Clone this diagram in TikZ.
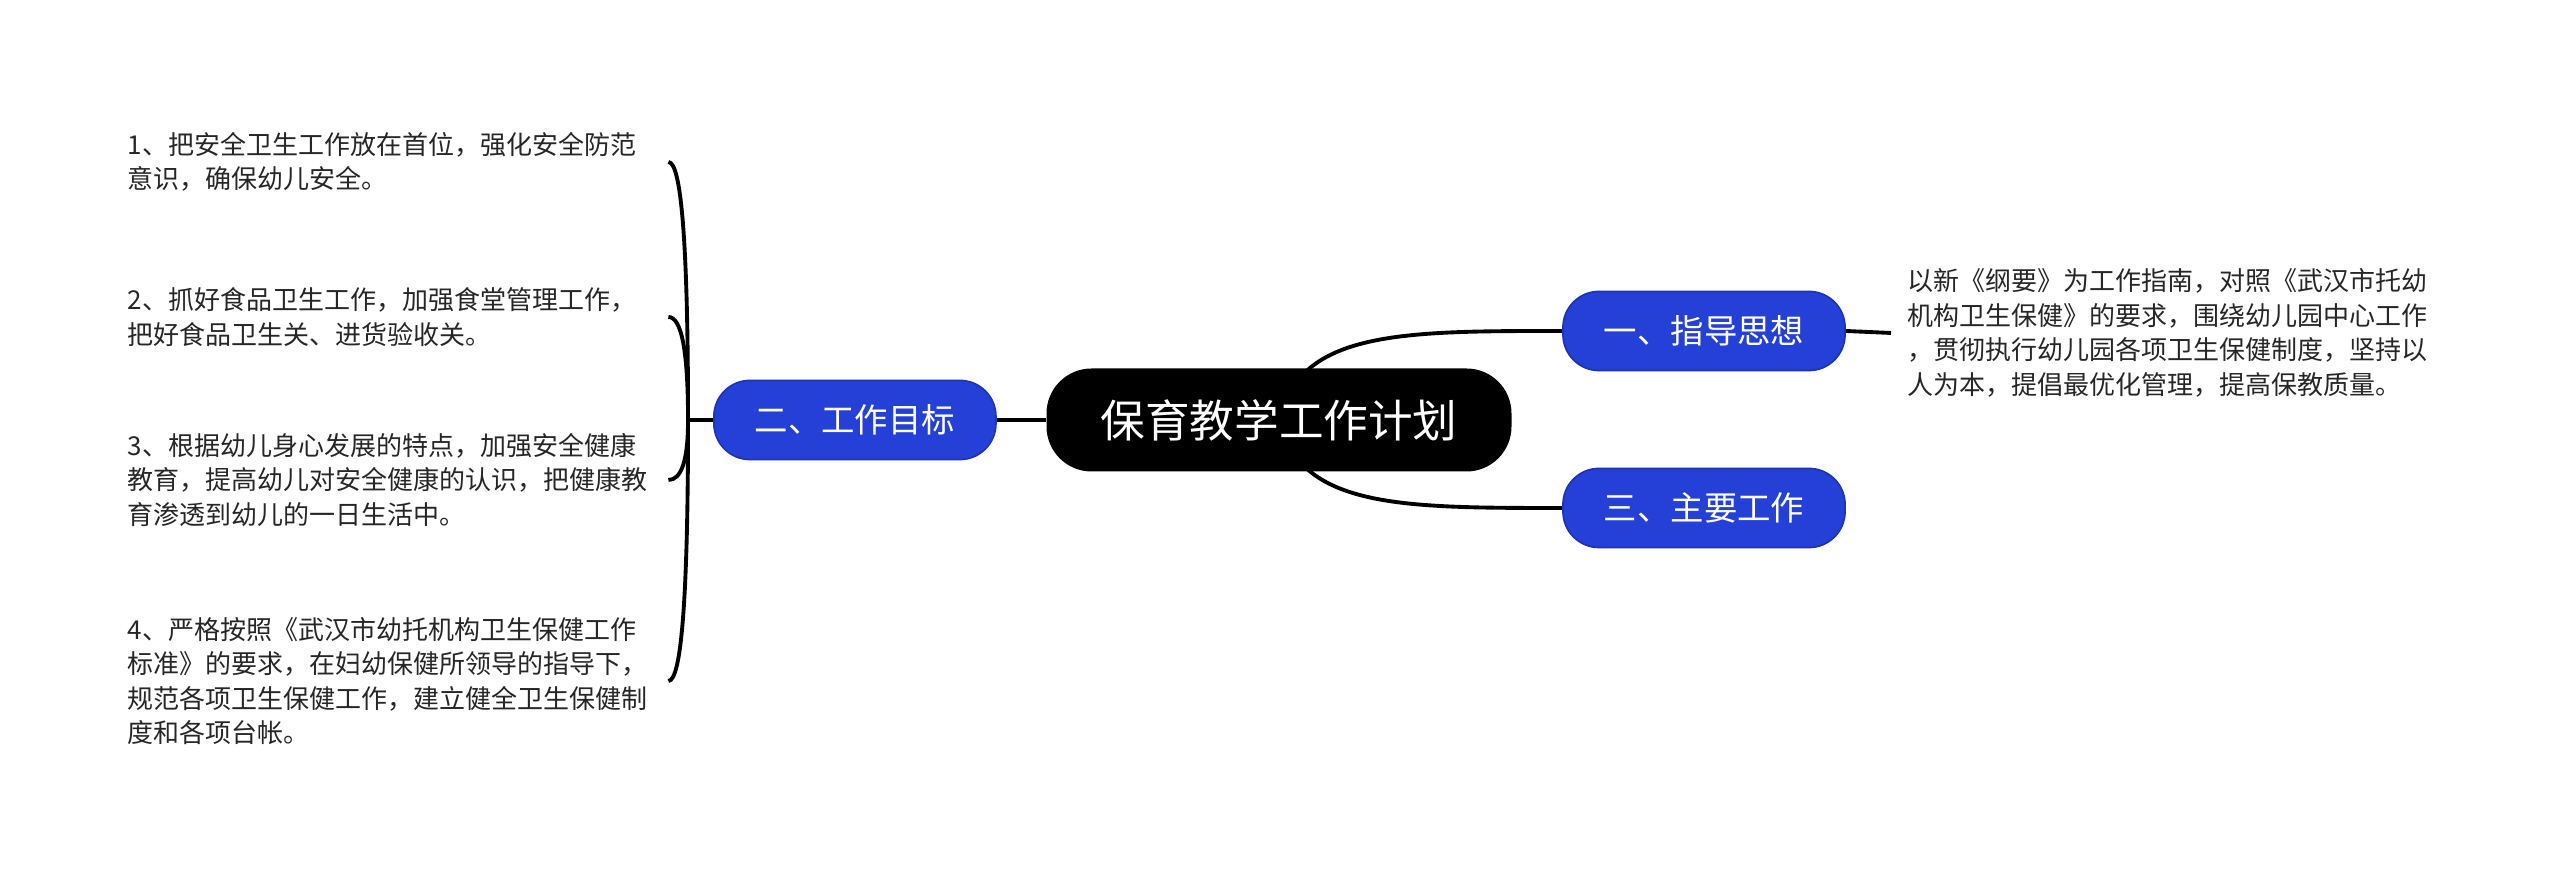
\documentclass[tikz,border=0pt]{standalone}
\usepackage{fontspec}
\setmainfont{Noto Sans CJK SC}
\usetikzlibrary{positioning,backgrounds,calc}
\definecolor{mapblue}{RGB}{37,64,214}
\definecolor{mapblueline}{RGB}{30,52,182}

\tikzset{
  link/.style={line width=1.1pt, black},
  rootbox/.style={fill=black, text=white, rounded corners=0.45cm,
    minimum width=4.65cm, minimum height=1.03cm,
    font=\fontsize{12.7pt}{15pt}\selectfont},
  topicbox/.style={fill=mapblue, draw=mapblueline, line width=0.5pt, text=white,
    rounded corners=0.36cm, minimum width=2.82cm, minimum height=0.79cm,
    font=\fontsize{9.5pt}{11pt}\selectfont},
  leaftext/.style={text width=5.4cm, align=left, inner xsep=0pt, anchor=west,
    text=black!85, font=\fontsize{7.4pt}{9.8pt}\selectfont},
}

\begin{document}
\begin{tikzpicture}
  \useasboundingbox (0,0) rectangle (25.6,8.73);
  % Noeud central
  \node[rootbox] (root) at (12.79,4.53) {保育教学工作计划};
  % Branches
  \node[topicbox, left=0.49cm of root] (mubiao) {二、工作目标};
  \node[topicbox] (zhidao) at (17.04,5.42) {一、指导思想};
  \node[topicbox] (zhuyao) at (17.04,3.65) {三、主要工作};
  % Textes
  \node[leaftext] (guide) at (19.07,5.40)
    {以新《纲要》为工作指南，对照《武汉市托幼\\机构卫生保健》的要求，围绕幼儿园中心工作\\，贯彻执行幼儿园各项卫生保健制度，坚持以\\人为本，提倡最优化管理，提高保教质量。};
  \node[leaftext] (goal1) at (1.27,7.11)
    {1、把安全卫生工作放在首位，强化安全防范\\意识，确保幼儿安全。};
  \node[leaftext] (goal2) at (1.27,5.56)
    {2、抓好食品卫生工作，加强食堂管理工作，\\把好食品卫生关、进货验收关。};
  \node[leaftext] (goal3) at (1.27,3.93)
    {3、根据幼儿身心发展的特点，加强安全健康\\教育，提高幼儿对安全健康的认识，把健康教\\育渗透到幼儿的一日生活中。};
  \node[leaftext] (goal4) at (1.27,1.92)
    {4、严格按照《武汉市幼托机构卫生保健工作\\标准》的要求，在妇幼保健所领导的指导下，\\规范各项卫生保健工作，建立健全卫生保健制\\度和各项台帐。};
  % Liens
  \begin{scope}[on background layer]
    \draw[link] (root.center) .. controls ($(root.center |- zhidao.west)+(0.21,0)$)
      and ($(zhidao.west)+(-1.62,0)$) .. (zhidao.west);
    \draw[link] (root.center) .. controls ($(root.center |- zhuyao.west)+(0.21,0)$)
      and ($(zhuyao.west)+(-1.62,0)$) .. (zhuyao.west);
    \draw[link] (root.west) -- (mubiao.east);
  \end{scope}
  \draw[link] (zhidao.east) -- ([xshift=-0.16cm]guide.west);
  % Accolade
  \coordinate (fork) at ([xshift=-0.25cm]mubiao.west);
  \draw[link] (mubiao.west) -- (fork);
  \foreach \i in {1,...,4}
    \draw[link] (fork) .. controls ($(fork)!0.67!(fork |- goal\i.east)$)
      and ($(goal\i.east)!0.67!(fork |- goal\i.east)$) .. (goal\i.east);
\end{tikzpicture}
\end{document}
